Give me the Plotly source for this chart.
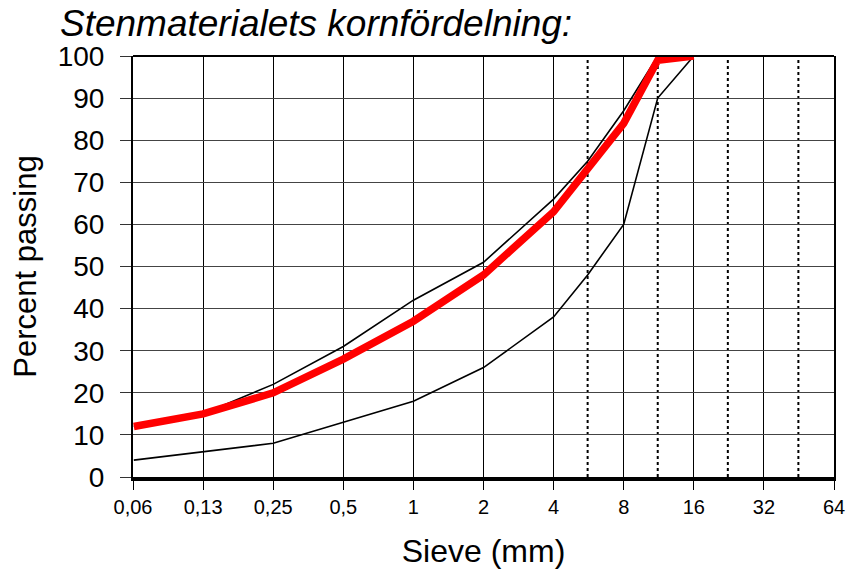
import plotly.graph_objects as go

# Sieve sizes (mm) and percent passing for the grading envelope and the mix
sieve_mm = [0.063, 0.125, 0.25, 0.5, 1, 2, 4, 5.6, 8, 11.2, 16]
upper_limit = [12, 15, 22, 31, 42, 51, 66, 75, 87, 100, 100]
lower_limit = [4, 6, 8, 13, 18, 26, 38, 48, 60, 90, 100]
mix_curve = [12, 15, 20, 28, 37, 48, 63, 73, 84, 99, 100]

tick_vals = [0.0625, 0.125, 0.25, 0.5, 1, 2, 4, 8, 16, 32, 64]
tick_text = ["0,06", "0,13", "0,25", "0,5", "1", "2", "4", "8", "16", "32", "64"]
dotted_sieves = [5.6, 11.2, 22.4, 45]

fig = go.Figure()
fig.add_trace(go.Scatter(x=sieve_mm, y=upper_limit, mode="lines",
                         line=dict(color="black", width=1.6), showlegend=False))
fig.add_trace(go.Scatter(x=sieve_mm, y=lower_limit, mode="lines",
                         line=dict(color="black", width=1.6), showlegend=False))
fig.add_trace(go.Scatter(x=sieve_mm, y=mix_curve, mode="lines",
                         line=dict(color="#ff0000", width=7.5), showlegend=False))

shapes = []
for s in dotted_sieves:
    shapes.append(dict(type="line", xref="x", yref="paper", x0=s, x1=s, y0=0, y1=1,
                       line=dict(color="black", width=2, dash="dot"), layer="below"))
# top border of the plot frame
shapes.append(dict(type="line", xref="paper", yref="paper", x0=0, x1=1, y0=1, y1=1,
                   line=dict(color="black", width=2)))

fig.update_layout(
    width=857, height=577,
    margin=dict(l=133, r=23, t=56, b=100),
    paper_bgcolor="white", plot_bgcolor="white",
    font=dict(family="Liberation Sans, Arial, sans-serif", color="black"),
    shapes=shapes,
    annotations=[dict(text="<i>Stenmaterialets kornfördelning:</i>",
                      xref="paper", yref="paper", x=-75 / 701, y=(477 - 24) / 421,
                      xanchor="left", yanchor="middle", showarrow=False,
                      font=dict(size=37, family="Liberation Sans, Arial, sans-serif"))],
    xaxis=dict(type="log", range=[-1.20412, 1.80618],
               tickvals=tick_vals, ticktext=tick_text,
               tickfont=dict(size=20, family="Liberation Sans Narrow, Arial Narrow, sans-serif"),
               ticks="outside", ticklen=9, tickcolor="black", tickwidth=1,
               showgrid=True, gridcolor="black", gridwidth=1,
               showline=True, linecolor="black", linewidth=4,
               zeroline=False,
               title=dict(text="Sieve (mm)", font=dict(size=32), standoff=24)),
    yaxis=dict(range=[0, 100], tickvals=list(range(0, 101, 10)),
               tickfont=dict(size=28),
               ticks="outside", ticklen=11, tickcolor="#333333", tickwidth=1,
               ticklabelstandoff=10,
               showgrid=True, gridcolor="#444444", gridwidth=1,
               showline=True, linecolor="black", linewidth=2, mirror=True,
               zeroline=False,
               title=dict(text="Percent passing", font=dict(size=31), standoff=12)),
)

fig.write_html("out.html")
